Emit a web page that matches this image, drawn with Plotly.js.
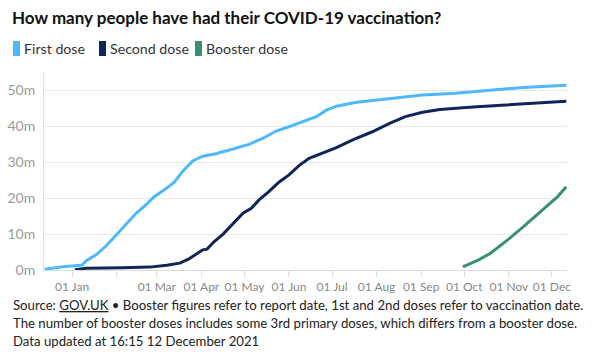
<!DOCTYPE html>
<html>
<head>
<meta charset="utf-8">
<script src="https://cdn.plot.ly/plotly-3.0.1.min.js"></script>
<style>
html,body{margin:0;padding:0;background:#fff;}
#chart{width:595px;height:359px;}
</style>
</head>
<body>
<div id="chart"></div>
<script>
// ---- Data (values in millions) ----
var firstDates = ['2020-12-13','2020-12-19','2020-12-27','2021-01-03','2021-01-08','2021-01-11','2021-01-18','2021-01-25','2021-02-01','2021-02-08','2021-02-15','2021-02-22','2021-02-27','2021-03-06','2021-03-13','2021-03-19','2021-03-26','2021-04-02','2021-04-11','2021-04-23','2021-05-04','2021-05-14','2021-05-23','2021-06-01','2021-06-10','2021-06-20','2021-06-27','2021-07-04','2021-07-18','2021-08-10','2021-09-02','2021-09-25','2021-10-18','2021-11-11','2021-12-11'];
var firstVals  = [0.2,0.6,1.0,1.2,1.4,2.6,4.3,6.8,9.9,12.9,15.9,18.3,20.3,22.2,24.3,27.4,30.3,31.6,32.3,33.6,34.9,36.6,38.6,39.8,41.2,42.6,44.4,45.5,46.6,47.5,48.6,49.1,49.8,50.7,51.3];

var secondDates = ['2021-01-03','2021-01-08','2021-01-11','2021-02-05','2021-02-24','2021-03-08','2021-03-17','2021-03-23','2021-03-28','2021-04-02','2021-04-05','2021-04-10','2021-04-16','2021-04-23','2021-04-30','2021-05-06','2021-05-11','2021-05-18','2021-05-25','2021-06-01','2021-06-08','2021-06-15','2021-06-24','2021-07-04','2021-07-15','2021-07-29','2021-08-10','2021-08-21','2021-09-02','2021-09-14','2021-10-07','2021-10-30','2021-11-22','2021-12-11'];
var secondVals  = [0.1,0.3,0.5,0.65,0.8,1.3,1.9,3.0,4.2,5.6,5.8,7.9,9.9,13.0,15.8,17.2,19.4,21.8,24.4,26.4,29.0,31.0,32.4,34.0,36.1,38.4,40.7,42.6,43.8,44.6,45.3,45.8,46.4,46.9];

var boosterDates = ['2021-09-30','2021-10-11','2021-10-19','2021-10-31','2021-11-11','2021-11-23','2021-12-05','2021-12-11'];
var boosterVals  = [0.9,2.8,4.6,8.3,12.0,16.2,20.4,23.1];

var seriesNames = ['First dose','Second dose','Booster dose'];
var seriesColors = ['#4db8fb','#0f2557','#3a8e78'];

var xTickVals = ['2021-01-01','2021-02-01','2021-03-01','2021-04-01','2021-05-01','2021-06-01','2021-07-01','2021-08-01','2021-09-01','2021-10-01','2021-11-01','2021-12-01'];
var xTickText = ['01 Jan','','01 Mar','01 Apr','01 May','01 Jun','01 Jul','01 Aug','01 Sep','01 Oct','01 Nov','01 Dec'];
var yTickVals = [0,10,20,30,40,50];
var yTickText = ['0m','10m','20m','30m','40m','50m'];

var titleText = 'How many people have had their COVID-19 vaccination?';
var footerLines = [
  'Source: <u>GOV.UK</u> • Booster figures refer to report date, 1st and 2nd doses refer to vaccination date.',
  'The number of booster doses includes some 3rd primary doses, which differs from a booster dose.',
  'Data updated at 16:15 12 December 2021'
];

// ---- Layout geometry ----
var W = 595, H = 359;
var mL = 44, mR = 28, mT = 72, mB = 89;
var pw = W - mL - mR, ph = H - mT - mB;
function px(x){ return (x - mL) / pw; }
function py(y){ return (H - mB - y) / ph; }

var FONT = 'Lato, "Open Sans", sans-serif';

var traces = [
  {x: firstDates, y: firstVals},
  {x: secondDates, y: secondVals},
  {x: boosterDates, y: boosterVals}
].map(function(t, i){
  return {
    type: 'scatter', mode: 'lines', x: t.x, y: t.y, name: seriesNames[i],
    line: {color: seriesColors[i], width: 3}, hoverinfo: 'skip', showlegend: false
  };
});

// custom legend
var legendX = [13, 99, 195];
var shapes = [], annotations = [];
legendX.forEach(function(lx, i){
  shapes.push({type: 'rect', xref: 'paper', yref: 'paper',
    x0: px(lx), x1: px(lx + 7), y0: py(56), y1: py(41),
    fillcolor: seriesColors[i], line: {width: 0}});
  annotations.push({xref: 'paper', yref: 'paper', x: px(lx + 9), y: py(48.5),
    xanchor: 'left', yanchor: 'middle', showarrow: false, text: seriesNames[i],
    font: {family: FONT, size: 14.2, color: '#333'}});
});
footerLines.forEach(function(t, i){
  annotations.push({xref: 'paper', yref: 'paper', x: px(11), y: py(305 + i * 18),
    xanchor: 'left', yanchor: 'middle', showarrow: false, text: t, align: 'left',
    font: {family: FONT, size: 13.2, color: '#222'}});
});

var layout = {
  width: W, height: H,
  margin: {l: mL, r: mR, t: mT, b: mB, pad: 0},
  paper_bgcolor: '#fff', plot_bgcolor: '#fff',
  font: {family: FONT},
  title: {text: '<b>' + titleText + '</b>', xref: 'container', yref: 'container',
    x: 12 / W, xanchor: 'left', y: 1 - 18 / H, yanchor: 'middle',
    font: {family: FONT, size: 17, color: '#111'}},
  xaxis: {
    type: 'date', range: ['2020-12-12 12:00', '2021-12-11 12:00'],
    tickmode: 'array', tickvals: xTickVals, ticktext: xTickText, tickangle: 0,
    ticks: 'outside', ticklen: 6, tickcolor: '#ddd', tickwidth: 1,
    showgrid: false, showline: true, linecolor: '#ddd', linewidth: 1, zeroline: false,
    tickfont: {family: FONT, size: 12, color: '#888'}, fixedrange: true
  },
  yaxis: {
    range: [0, 55], tickmode: 'array', tickvals: yTickVals, ticktext: yTickText,
    showgrid: true, gridcolor: '#e8e8e8', gridwidth: 1, zeroline: false,
    showline: true, linecolor: '#e3e3e3', ticks: '', ticklabelstandoff: 5,
    tickfont: {family: FONT, size: 14, color: '#999'}, fixedrange: true
  },
  shapes: shapes,
  annotations: annotations,
  showlegend: false
};

Plotly.newPlot('chart', traces, layout, {displayModeBar: false, staticPlot: true});
</script>
</body>
</html>
